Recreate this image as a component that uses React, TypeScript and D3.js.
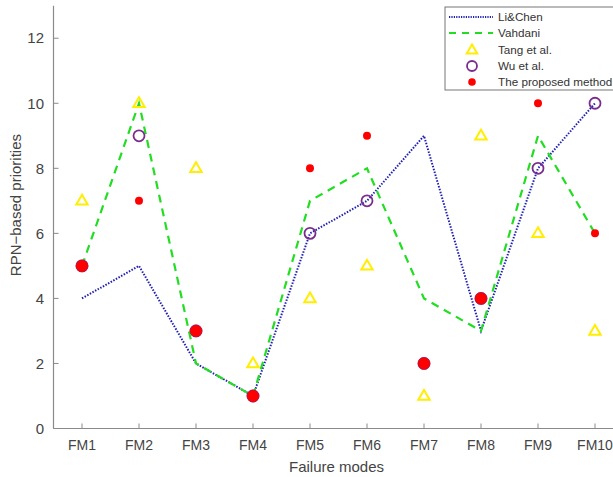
import React from "react";
import * as d3 from "d3";

const categories = ["FM1", "FM2", "FM3", "FM4", "FM5", "FM6", "FM7", "FM8", "FM9", "FM10"];
const liChen = [4, 5, 2, 1, 6, 7, 9, 3, 8, 10];
const vahdani = [5, 10, 2, 1, 7, 8, 4, 3, 9, 6];
const tang = [7, 10, 8, 2, 4, 5, 1, 9, 6, 3];
const wu = [5, 9, 3, 1, 6, 7, 2, 4, 8, 10];
const proposed = [5, 7, 3, 1, 8, 9, 2, 4, 10, 6];
const yTicks = [0, 2, 4, 6, 8, 10, 12];

const W = 613, H = 477;
const x = d3.scaleLinear().domain([0.5, 10.5]).range([53.5, 623.5]);
const y = d3.scaleLinear().domain([0, 13]).range([428.5, 5.7]);

const FONT = "'Liberation Sans', Arial, sans-serif";
const BLUE = "#1f1fb4";
const GREEN = "#22dd22";
const YELLOW = "#ffee00";
const PURPLE = "#7b2d8e";
const RED = "#ff0000";
const AXIS = "#8a8a8a";
const TXT = "#444";

function tri(cx: number, cy: number, s = 6) {
  return `M${cx},${cy - s} L${cx + s * 0.95},${cy + s * 0.62} L${cx - s * 0.95},${cy + s * 0.62} Z`;
}

export default function App() {
  const line = d3.line<number>().x((_, i) => x(i + 1)).y((d) => y(d));
  const lx = 445, ly = 7;
  const rows = [17, 33, 50, 66, 82];
  return (
    <svg width={W} height={H} style={{ position: "absolute", left: 0, top: 0, background: "#fff" }}>
      <defs>
        <clipPath id="plot">
          <rect x={53} y={0} width={W} height={430} />
        </clipPath>
      </defs>
      {/* axes */}
      <line x1={53.5} x2={W} y1={428.5} y2={428.5} stroke={AXIS} strokeWidth={1.2} />
      <line x1={53.5} x2={53.5} y1={5.7} y2={428.5} stroke={AXIS} strokeWidth={1.2} />
      {yTicks.map((t) => (
        <g key={t}>
          <line x1={53.5} x2={58.5} y1={y(t)} y2={y(t)} stroke={AXIS} />
          <text x={44} y={y(t)} dy="0.35em" textAnchor="end" fontFamily={FONT} fontSize={15} fill={TXT}>
            {t}
          </text>
        </g>
      ))}
      {categories.map((c, i) => (
        <g key={c}>
          <line x1={x(i + 1)} x2={x(i + 1)} y1={428.5} y2={423.5} stroke={AXIS} />
          <text x={x(i + 1)} y={450} textAnchor="middle" fontFamily={FONT} fontSize={14} fill={TXT}>
            {c}
          </text>
        </g>
      ))}
      <text x={W / 2 + 30} y={472} textAnchor="middle" fontFamily={FONT} fontSize={15} fill={TXT}>
        Failure modes
      </text>
      <text
        transform={`translate(21,${(5.7 + 428.5) / 2 - 12}) rotate(-90)`}
        textAnchor="middle"
        fontFamily={FONT}
        fontSize={15}
        fill={TXT}
      >
        RPN−based priorities
      </text>

      <g clipPath="url(#plot)">
        <path d={line(liChen) || ""} fill="none" stroke={BLUE} strokeWidth={2} strokeDasharray="1.5,1.5" />
        <path d={line(vahdani) || ""} fill="none" stroke={GREEN} strokeWidth={2.2} strokeDasharray="8,6" />
        {tang.map((v, i) => (
          <path key={"t" + i} d={tri(x(i + 1), y(v))} fill="none" stroke={YELLOW} strokeWidth={2} />
        ))}
        {wu.map((v, i) => (
          <circle key={"w" + i} cx={x(i + 1)} cy={y(v)} r={5.5} fill="none" stroke={PURPLE} strokeWidth={1.8} />
        ))}
        {proposed.map((v, i) => (
          <circle
            key={"p" + i}
            cx={x(i + 1)}
            cy={y(v)}
            r={wu[i] === v ? 6 : 4}
            fill={RED}
            stroke={wu[i] === v ? "#c0103a" : "none"}
            strokeWidth={0.6}
          />
        ))}
      </g>

      {/* legend */}
      <rect x={lx} y={ly} width={W - lx + 20} height={83} fill="#fff" stroke="#777" strokeWidth={1} />
      <line x1={449} x2={493} y1={rows[0]} y2={rows[0]} stroke={BLUE} strokeWidth={2} strokeDasharray="1.2,1.2" />
      <line x1={449} x2={493} y1={rows[1]} y2={rows[1]} stroke={GREEN} strokeWidth={2} strokeDasharray="7,6" />
      <path d={tri(472, rows[2], 5.5)} fill="none" stroke={YELLOW} strokeWidth={2} />
      <circle cx={472} cy={rows[3]} r={5} fill="none" stroke={PURPLE} strokeWidth={1.8} />
      <circle cx={472} cy={rows[4]} r={3.8} fill={RED} />
      {["Li&Chen", "Vahdani", "Tang et al.", "Wu et al.", "The proposed method"].map((s, i) => (
        <text key={s} x={498} y={rows[i]} dy="0.35em" fontFamily={FONT} fontSize={11.7} fill="#333">
          {s}
        </text>
      ))}
    </svg>
  );
}
